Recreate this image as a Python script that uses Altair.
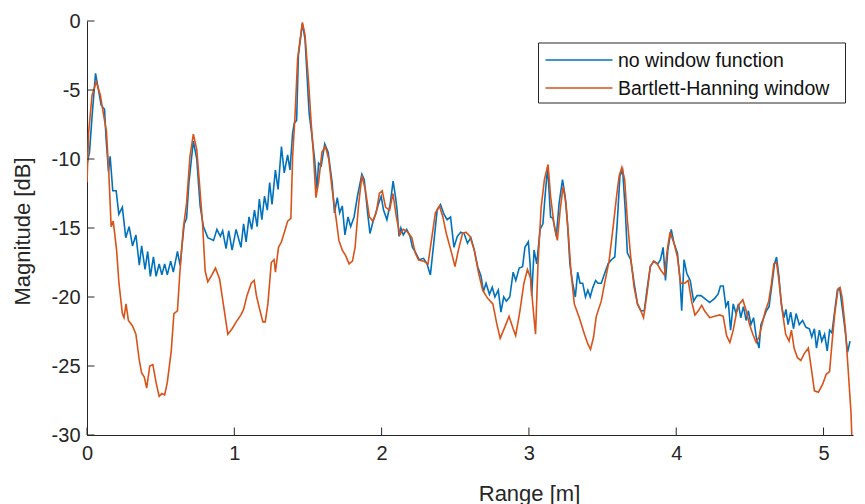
import altair as alt
import pandas as pd

# ---------------- data ----------------
series_names = ["no window function", "Bartlett-Hanning window"]
series_colors = ["#0072BD", "#D95319"]
x_ticks = [0, 1, 2, 3, 4, 5]
y_ticks = [0, -5, -10, -15, -20, -25, -30]

nw_x = [0.000, 0.017, 0.035, 0.058, 0.073, 0.096, 0.119, 0.130, 0.146, 0.157, 0.175, 0.198, 0.216, 0.240,
        0.263, 0.286, 0.309, 0.332, 0.355, 0.371, 0.394, 0.412, 0.430, 0.451, 0.469, 0.490, 0.508, 0.527,
        0.545, 0.568, 0.586, 0.614, 0.632, 0.660, 0.676, 0.692, 0.722, 0.745, 0.768, 0.790, 0.820, 0.859,
        0.882, 0.905, 0.921, 0.944, 0.962, 0.985, 1.012, 1.045, 1.063, 1.080, 1.100, 1.118, 1.137, 1.155,
        1.170, 1.187, 1.205, 1.224, 1.240, 1.256, 1.279, 1.297, 1.320, 1.339, 1.362, 1.378, 1.396, 1.407,
        1.423, 1.435, 1.462, 1.480, 1.508, 1.527, 1.545, 1.561, 1.572, 1.590, 1.614, 1.637, 1.664, 1.680,
        1.699, 1.715, 1.733, 1.751, 1.772, 1.790, 1.813, 1.836, 1.866, 1.882, 1.905, 1.921, 1.940, 1.958,
        1.980, 1.997, 2.013, 2.036, 2.059, 2.078, 2.095, 2.105, 2.118, 2.131, 2.147, 2.170, 2.193, 2.209,
        2.232, 2.255, 2.285, 2.308, 2.331, 2.354, 2.377, 2.400, 2.423, 2.445, 2.468, 2.491, 2.514, 2.537,
        2.560, 2.583, 2.606, 2.629, 2.652, 2.675, 2.691, 2.709, 2.732, 2.751, 2.769, 2.792, 2.810, 2.829,
        2.847, 2.870, 2.893, 2.911, 2.934, 2.957, 2.973, 2.996, 3.008, 3.019, 3.035, 3.053, 3.076, 3.095,
        3.111, 3.127, 3.147, 3.163, 3.186, 3.205, 3.228, 3.246, 3.262, 3.278, 3.297, 3.315, 3.331, 3.347,
        3.365, 3.384, 3.400, 3.416, 3.434, 3.453, 3.469, 3.491, 3.514, 3.537, 3.560, 3.583, 3.599, 3.618,
        3.636, 3.654, 3.668, 3.691, 3.714, 3.737, 3.760, 3.783, 3.801, 3.824, 3.847, 3.875, 3.893, 3.911,
        3.927, 3.943, 3.966, 3.985, 4.008, 4.026, 4.037, 4.053, 4.072, 4.095, 4.118, 4.141, 4.168, 4.192,
        4.227, 4.261, 4.284, 4.300, 4.319, 4.337, 4.353, 4.369, 4.387, 4.406, 4.422, 4.438, 4.456, 4.475,
        4.490, 4.507, 4.525, 4.543, 4.562, 4.575, 4.594, 4.612, 4.630, 4.651, 4.667, 4.681, 4.697, 4.713,
        4.731, 4.745, 4.759, 4.777, 4.796, 4.814, 4.835, 4.858, 4.881, 4.904, 4.920, 4.938, 4.952, 4.972,
        4.988, 5.007, 5.025, 5.041, 5.057, 5.076, 5.094, 5.110, 5.126, 5.144, 5.163, 5.180]
nw_y = [-10.4, -9.5, -6.8, -3.8, -4.7, -6.1, -6.4, -8.6, -10.9, -9.8, -12.3, -12.3, -14.0, -13.5,
        -15.7, -14.9, -16.3, -15.5, -17.7, -16.3, -18.0, -16.7, -18.5, -17.1, -18.5, -17.6, -18.4, -17.6,
        -18.4, -17.4, -18.2, -16.7, -17.7, -14.7, -14.3, -11.7, -8.7, -10.0, -13.4, -14.9, -15.7, -15.9,
        -15.1, -15.6, -15.2, -16.5, -15.2, -16.6, -15.1, -16.4, -14.7, -16.0, -14.2, -15.1, -13.7, -14.9,
        -12.9, -14.4, -12.7, -13.7, -11.7, -13.3, -10.8, -12.2, -9.1, -11.0, -9.7, -10.8, -8.1, -7.4,
        -7.2, -2.5, -0.2, -1.3, -6.7, -8.3, -10.0, -12.2, -10.3, -10.5, -8.9, -9.5, -11.7, -13.9,
        -12.8, -13.9, -13.4, -15.5, -14.2, -14.9, -14.2, -12.7, -11.1, -11.5, -13.9, -15.4, -14.6, -14.0,
        -13.2, -12.7, -13.7, -14.4, -13.2, -11.6, -12.8, -13.7, -15.6, -15.0, -15.5, -15.1, -15.6, -16.4,
        -16.8, -17.3, -17.2, -17.6, -18.4, -16.1, -13.7, -13.3, -14.0, -14.4, -14.2, -16.4, -15.6, -15.3,
        -15.4, -16.1, -15.7, -16.6, -17.8, -18.5, -19.6, -19.0, -19.8, -19.3, -20.0, -19.5, -21.1, -20.0,
        -20.3, -20.0, -18.2, -18.8, -17.9, -17.8, -16.4, -16.0, -17.6, -19.9, -16.6, -17.6, -15.1, -14.7,
        -12.5, -10.6, -14.2, -14.3, -15.6, -13.2, -11.5, -12.7, -14.7, -17.6, -19.0, -20.0, -18.2, -19.0,
        -19.0, -20.0, -19.5, -20.0, -19.3, -18.8, -19.0, -19.0, -18.3, -17.6, -17.3, -17.1, -14.7, -11.2,
        -10.8, -13.7, -16.8, -17.3, -19.0, -20.5, -21.0, -21.0, -19.5, -17.8, -17.4, -17.6, -17.3, -16.4,
        -18.8, -16.6, -15.1, -16.1, -16.8, -18.8, -21.0, -17.3, -18.3, -18.8, -20.3, -19.9, -19.9, -20.1,
        -20.4, -20.1, -19.8, -19.2, -19.2, -20.7, -20.3, -22.4, -20.5, -21.2, -20.5, -21.5, -20.7, -21.7,
        -21.0, -22.0, -21.5, -22.9, -23.7, -22.0, -21.5, -21.0, -20.7, -19.0, -17.6, -17.1, -18.5, -20.5,
        -21.5, -20.9, -22.0, -21.1, -22.3, -21.2, -22.0, -21.7, -22.2, -22.3, -22.9, -22.3, -23.7, -22.4,
        -23.2, -22.7, -23.9, -22.4, -22.6, -21.0, -19.5, -19.4, -20.7, -22.2, -24.0, -23.2]

bh_x = [0.000, 0.011, 0.034, 0.063, 0.091, 0.114, 0.132, 0.148, 0.164, 0.178, 0.201, 0.217, 0.240, 0.251,
        0.265, 0.281, 0.309, 0.332, 0.355, 0.371, 0.389, 0.405, 0.426, 0.447, 0.469, 0.490, 0.508, 0.527,
        0.545, 0.572, 0.590, 0.614, 0.630, 0.653, 0.676, 0.699, 0.722, 0.745, 0.763, 0.784, 0.802, 0.820,
        0.848, 0.872, 0.900, 0.928, 0.956, 0.985, 1.013, 1.045, 1.063, 1.086, 1.115, 1.135, 1.150, 1.170,
        1.194, 1.210, 1.228, 1.251, 1.270, 1.279, 1.300, 1.320, 1.343, 1.362, 1.384, 1.396, 1.412, 1.430,
        1.462, 1.480, 1.504, 1.522, 1.538, 1.554, 1.572, 1.595, 1.618, 1.641, 1.664, 1.692, 1.710, 1.733,
        1.756, 1.779, 1.802, 1.820, 1.843, 1.866, 1.889, 1.917, 1.940, 1.963, 1.985, 2.004, 2.027, 2.054,
        2.077, 2.100, 2.124, 2.147, 2.177, 2.205, 2.228, 2.250, 2.285, 2.315, 2.342, 2.365, 2.393, 2.416,
        2.439, 2.475, 2.498, 2.521, 2.549, 2.572, 2.599, 2.629, 2.659, 2.686, 2.720, 2.755, 2.783, 2.805,
        2.843, 2.865, 2.893, 2.910, 2.939, 2.966, 2.990, 3.010, 3.030, 3.045, 3.062, 3.083, 3.105, 3.130,
        3.147, 3.170, 3.193, 3.212, 3.232, 3.251, 3.269, 3.285, 3.308, 3.342, 3.377, 3.400, 3.418, 3.439,
        3.457, 3.491, 3.514, 3.544, 3.572, 3.595, 3.613, 3.631, 3.650, 3.668, 3.691, 3.714, 3.737, 3.760,
        3.778, 3.801, 3.824, 3.847, 3.870, 3.898, 3.920, 3.939, 3.958, 3.985, 4.008, 4.030, 4.058, 4.081,
        4.104, 4.127, 4.150, 4.173, 4.192, 4.227, 4.261, 4.296, 4.319, 4.342, 4.364, 4.387, 4.410, 4.429,
        4.452, 4.475, 4.498, 4.520, 4.543, 4.562, 4.582, 4.605, 4.628, 4.647, 4.663, 4.681, 4.697, 4.720,
        4.743, 4.766, 4.782, 4.800, 4.823, 4.846, 4.869, 4.897, 4.920, 4.938, 4.965, 4.995, 5.018, 5.041,
        5.057, 5.076, 5.099, 5.112, 5.126, 5.149, 5.168, 5.186, 5.195]
bh_y = [-11.7, -8.1, -5.4, -4.4, -5.4, -6.9, -8.0, -11.0, -14.9, -14.5, -16.6, -19.0, -21.2, -21.5,
        -20.5, -21.7, -22.1, -22.7, -24.6, -25.5, -25.8, -26.6, -25.0, -24.9, -26.2, -27.2, -27.0, -27.1,
        -26.2, -23.9, -21.2, -21.0, -18.3, -15.1, -13.2, -9.8, -8.2, -9.3, -11.7, -14.6, -18.1, -18.9,
        -18.4, -17.9, -18.7, -20.7, -22.7, -22.3, -21.8, -21.3, -20.9, -19.9, -19.0, -18.8, -19.9, -20.8,
        -21.8, -21.8, -20.5, -17.5, -17.3, -18.2, -16.4, -16.0, -15.2, -14.5, -14.3, -9.8, -6.9, -2.7,
        -0.1, -1.0, -4.4, -7.4, -9.8, -12.8, -11.7, -9.5, -9.1, -10.0, -12.2, -14.4, -15.9, -16.6,
        -17.0, -17.6, -17.4, -16.4, -13.4, -11.2, -12.2, -14.2, -14.5, -13.9, -12.5, -12.3, -13.5, -13.7,
        -12.5, -14.2, -15.5, -15.1, -15.3, -15.7, -16.8, -17.3, -17.4, -17.6, -15.6, -13.9, -13.4, -14.2,
        -15.4, -16.8, -17.8, -16.6, -15.4, -15.3, -15.6, -16.6, -18.3, -19.5, -20.1, -20.5, -22.0, -23.0,
        -22.0, -21.4, -22.3, -22.8, -21.0, -19.0, -18.0, -18.6, -21.0, -22.7, -17.5, -13.5, -11.5, -10.4,
        -12.7, -14.7, -15.9, -13.7, -12.0, -13.2, -15.6, -18.1, -20.5, -21.5, -22.7, -23.4, -23.8, -22.9,
        -21.4, -20.3, -19.0, -17.4, -14.9, -12.7, -11.2, -10.6, -11.5, -14.4, -17.1, -19.3, -20.5, -21.0,
        -21.5, -19.8, -17.8, -17.4, -17.6, -18.1, -18.4, -16.6, -15.3, -16.1, -17.1, -19.0, -19.0, -18.8,
        -20.3, -21.3, -21.0, -20.6, -21.0, -21.5, -21.4, -21.3, -21.4, -22.8, -23.3, -22.4, -21.1, -20.5,
        -20.2, -21.0, -22.0, -22.7, -23.3, -22.9, -22.0, -21.0, -20.3, -19.0, -17.6, -17.5, -18.8, -21.0,
        -22.7, -23.2, -22.4, -23.7, -24.4, -24.6, -24.1, -23.7, -25.4, -26.8, -26.9, -26.3, -25.6, -25.4,
        -23.4, -21.2, -19.4, -19.3, -20.0, -22.4, -25.4, -28.3, -31.0]

# ---------------- chart ----------------
FONT = "Liberation Sans"
INK = "#262626"
W, H = 766, 414

df_nw = pd.DataFrame({"x": nw_x, "y": nw_y})
df_bh = pd.DataFrame({"x": bh_x, "y": bh_y})

xscale = alt.Scale(domain=[0, 5.2], nice=False, zero=False)
yscale = alt.Scale(domain=[-30, 0], nice=False, zero=False)

x_axis = alt.Axis(values=x_ticks, title="Range [m]", grid=False, ticks=False,
                  labelFont=FONT, labelFontSize=20, labelColor=INK, labelPadding=8,
                  titleFont=FONT, titleFontSize=22, titleColor=INK, titleFontWeight="normal",
                  titleX=442, titleY=58, titleBaseline="middle", titleAlign="center",
                  domainColor=INK, domainWidth=1, labelFlush=False)
y_axis = alt.Axis(values=y_ticks, title="Magnitude [dB]", grid=False, ticks=False,
                  labelExpr="'' + datum.value",
                  labelFont=FONT, labelFontSize=20, labelColor=INK, labelPadding=7,
                  titleFont=FONT, titleFontSize=22, titleColor=INK, titleFontWeight="normal",
                  titleX=-65, titleY=210, titleAngle=270, titleBaseline="middle", titleAlign="center",
                  domainColor=INK, domainWidth=1, labelFlush=False)

X = alt.X("x:Q", scale=xscale, axis=x_axis)
Y = alt.Y("y:Q", scale=yscale, axis=y_axis)

line_nw = alt.Chart(df_nw).mark_line(color=series_colors[0], strokeWidth=1.6, clip=True).encode(x=X, y=Y)
line_bh = alt.Chart(df_bh).mark_line(color=series_colors[1], strokeWidth=1.6, clip=True).encode(x=X, y=Y)

# inward-pointing ticks (MATLAB style)
xt = alt.Chart(pd.DataFrame({"x": x_ticks})).mark_rule(color=INK, strokeWidth=1).encode(
    x=X, y=alt.value(H), y2=alt.value(H - 7.5))
yt = alt.Chart(pd.DataFrame({"y": y_ticks})).mark_rule(color=INK, strokeWidth=1).encode(
    y=Y, x=alt.value(0), x2=alt.value(7.5))

# legend box
one = pd.DataFrame({"k": [0]})
leg_box = alt.Chart(one).mark_rect(fill="white", stroke=INK, strokeWidth=1).encode(
    x=alt.value(451.5), x2=alt.value(758.5), y=alt.value(22), y2=alt.value(82))
leg_layers = []
for i, (name, col) in enumerate(zip(series_names, series_colors)):
    yy = 39 + 28 * i
    d = pd.DataFrame({"name": [name]})
    leg_layers.append(alt.Chart(d).mark_rule(color=col, strokeWidth=1.6).encode(
        x=alt.value(458.5), x2=alt.value(525.5), y=alt.value(yy)))
    leg_layers.append(alt.Chart(d).mark_text(align="left", baseline="middle", font=FONT,
                                             fontSize=19.5, color="#111111").encode(
        x=alt.value(531), y=alt.value(yy + 1), text="name:N"))

chart = alt.layer(line_nw, line_bh, xt, yt, leg_box, *leg_layers).properties(
    width=W, height=H,
    padding={"left": 87, "top": 21, "right": 12, "bottom": 69},
    autosize=alt.AutoSizeParams(type="none"),
    background="white",
).configure_view(stroke=None)

chart.save("out.html", embed_options={"renderer": "svg", "actions": False})
